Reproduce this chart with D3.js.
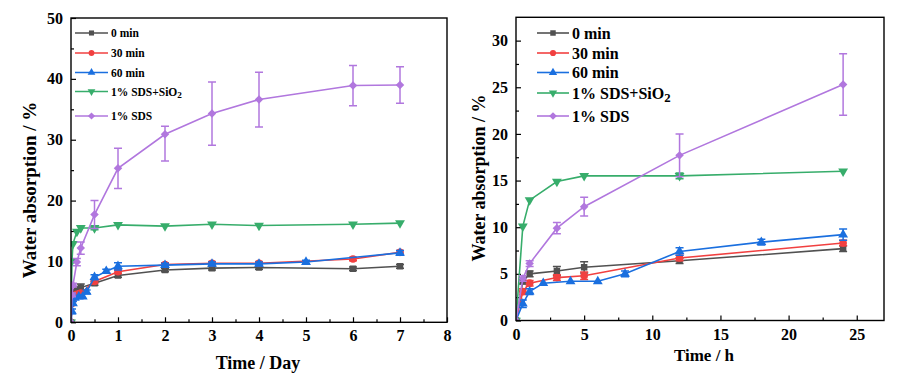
<!DOCTYPE html>
<html><head><meta charset="utf-8">
<script src="https://cdn.jsdelivr.net/npm/d3@7"></script>
<style>
body{margin:0;background:#fff}
svg{display:block}
text{font-family:"Liberation Serif","Times New Roman",serif;font-weight:bold;fill:#000}
</style></head>
<body><svg id="c" width="911" height="383"></svg>
<script>
// ---------- DATA ----------
const seriesNames = ["0 min", "30 min", "60 min", "1% SDS+SiO2", "1% SDS"];
const colors = ["#515151", "#F14040", "#1A6FDF", "#37AD6B", "#B177DE"];
const shapes = ["square", "circle", "triUp", "triDown", "diamond"];

// Right chart (hours)
const hoursStd = [0, 0.5, 1, 3, 5, 12, 24];
const hoursBlue = [0, 0.5, 1, 2, 4, 6, 8, 12, 18, 24];
const grayH = [0, 4.2, 5.0, 5.3, 5.7, 6.4, 7.7];
const redH = [0, 3.1, 4.0, 4.6, 4.8, 6.7, 8.3];
const blueH = [0, 1.8, 3.1, 4.0, 4.2, 4.2, 5.0, 7.4, 8.4, 9.2];
const greenH = [0, 10.1, 12.9, 14.9, 15.5, 15.5, 16.0];
const purpleH = [0, 4.5, 6.1, 9.9, 12.2, 17.7, 25.3];
const grayHErr = [0, 0.3, 0.3, 0.5, 0.6, 0.3, 0.3];
const redHErr = [0, 0.3, 0.3, 0.3, 0.4, 0.3, 0.3];
const blueHErr = [0, 0.4, 0.3, 0.2, 0.2, 0.2, 0.3, 0.4, 0.3, 0.6];
const greenHErr = [0, 0.2, 0.2, 0.2, 0.2, 0.3, 0.2];
const purpleHErr = [0, 0.3, 0.3, 0.6, 1.0, 2.3, 3.3];

// Left chart (days): early hour points expressed in days, then later days
const daysStd = [0, 0.0208, 0.0417, 0.125, 0.208, 0.5, 1, 2, 3, 4, 6, 7];
const daysBlue = [0, 0.0208, 0.0417, 0.0833, 0.1667, 0.25, 0.333, 0.5, 0.75, 1, 2, 3, 4, 5, 7];
const grayD = [0, 4.2, 5.0, 5.3, 5.7, 6.4, 7.7, 8.6, 8.9, 9.0, 8.8, 9.2];
const redD = [0, 3.1, 4.0, 4.6, 4.8, 6.7, 8.3, 9.5, 9.7, 9.7, 10.4, 11.5];
const blueD = [0, 1.8, 3.1, 4.0, 4.2, 4.2, 5.0, 7.4, 8.4, 9.2, 9.4, 9.6, 9.6, 9.9, 11.4];
const greenD = [0, 10.1, 12.9, 14.9, 15.5, 15.5, 16.0, 15.8, 16.1, 15.9, 16.1, 16.3];
const purpleD = [0, 4.5, 6.1, 9.9, 12.2, 17.7, 25.3, 30.9, 34.3, 36.6, 38.9, 39.0];
const grayDErr = [0, 0.3, 0.3, 0.5, 0.6, 0.3, 0.3, 0.3, 0.3, 0.3, 0.3, 0.3];
const redDErr = [0, 0.3, 0.3, 0.3, 0.4, 0.3, 0.3, 0.3, 0.3, 0.3, 0.3, 0.3];
const blueDErr = [0, 0.4, 0.3, 0.2, 0.2, 0.2, 0.3, 0.4, 0.3, 0.6, 0.3, 0.3, 0.3, 0.3, 0.4];
const greenDErr = [0, 0.2, 0.2, 0.2, 0.2, 0.3, 0.2, 0.2, 0.2, 0.2, 0.2, 0.2];
const purpleDErrUp = [0, 0.3, 0.3, 0.6, 1.0, 2.3, 3.3, 1.3, 5.2, 4.5, 3.3, 3.0];
const purpleDErrDown = [0, 0.3, 0.3, 0.6, 1.0, 2.3, 3.3, 4.4, 5.2, 4.5, 3.3, 3.0];

const leftXTicks = [0, 1, 2, 3, 4, 5, 6, 7, 8];
const leftYTicks = [0, 10, 20, 30, 40, 50];
const rightXTicks = [0, 5, 10, 15, 20, 25];
const rightYTicks = [0, 5, 10, 15, 20, 25, 30];

const yTitle = "Water absorption / %";
const leftXTitle = "Time / Day";
const rightXTitle = "Time / h";

// ---------- BUILD ----------
const svg = d3.select("#c");

function mk(xs, ys, up, down) {
  return xs.map((x, i) => ({x, y: ys[i], up: up[i], down: (down || up)[i]}));
}
const leftSeries = [
  mk(daysStd, grayD, grayDErr), mk(daysStd, redD, redDErr), mk(daysBlue, blueD, blueDErr),
  mk(daysStd, greenD, greenDErr), mk(daysStd, purpleD, purpleDErrUp, purpleDErrDown)
];
const rightSeries = [
  mk(hoursStd, grayH, grayHErr), mk(hoursStd, redH, redHErr), mk(hoursBlue, blueH, blueHErr),
  mk(hoursStd, greenH, greenHErr), mk(hoursStd, purpleH, purpleHErr)
];

function symbolPath(shape, size) {
  if (shape === "square") return d3.symbol(d3.symbolSquare, size)();
  if (shape === "circle") return d3.symbol(d3.symbolCircle, size)();
  if (shape === "triUp" || shape === "triDown") return d3.symbol(d3.symbolTriangle, size)();
  return d3.symbol(d3.symbolSquare, size)();
}
function symbolRot(shape) {
  if (shape === "triDown") return " rotate(180)";
  if (shape === "diamond") return " rotate(45)";
  return "";
}

function panel(cfg) {
  const g = svg.append("g");
  const x = d3.scaleLinear().domain(cfg.xDom).range(cfg.xRange);
  const y = d3.scaleLinear().domain(cfg.yDom).range(cfg.yRange);
  const [x0, x1] = cfg.xRange, [yb, yt] = cfg.yRange;

  // minor ticks
  g.append("g").attr("transform", `translate(0,${yb})`)
    .call(d3.axisBottom(x).tickValues(cfg.xMinor).tickSize(-3).tickFormat(""))
    .call(a => a.select(".domain").remove());
  g.append("g").attr("transform", `translate(${x0},0)`)
    .call(d3.axisLeft(y).tickValues(cfg.yMinor).tickSize(-3).tickFormat(""))
    .call(a => a.select(".domain").remove());
  // major ticks
  const ax = g.append("g").attr("transform", `translate(0,${yb})`)
    .call(d3.axisBottom(x).tickValues(cfg.xTicks).tickSize(-5).tickPadding(7).tickFormat(d3.format("d")));
  ax.select(".domain").remove();
  ax.selectAll("text").attr("font-size", 16).attr("dy", "0.75em").style("font-family", "'Liberation Serif',serif").style("font-weight", "bold");
  const ay = g.append("g").attr("transform", `translate(${x0},0)`)
    .call(d3.axisLeft(y).tickValues(cfg.yTicks).tickSize(-5).tickPadding(8).tickFormat(d3.format("d")));
  ay.select(".domain").remove();
  ay.selectAll("text").attr("font-size", 16).style("font-family", "'Liberation Serif',serif").style("font-weight", "bold");
  g.selectAll(".tick line").attr("stroke", "#000").attr("stroke-width", 1.2);

  // data
  const clipId = "clip" + cfg.id;
  g.append("clipPath").attr("id", clipId).append("rect")
    .attr("x", x0).attr("y", yt).attr("width", x1 - x0).attr("height", yb - yt);
  const dg = g.append("g").attr("clip-path", `url(#${clipId})`);
  const line = d3.line().x(d => x(d.x)).y(d => y(d.y));
  cfg.series.forEach((s, i) => {
    const c = colors[i];
    const sg = dg.append("g");
    sg.append("path").datum(s).attr("d", line).attr("fill", "none").attr("stroke", c).attr("stroke-width", 1.6);
    s.forEach(d => {
      if (d.up > 0.25 || d.down > 0.25) {
        const xp = x(d.x), ya = y(d.y + d.up), yb2 = y(d.y - d.down);
        sg.append("line").attr("x1", xp).attr("x2", xp).attr("y1", ya).attr("y2", yb2).attr("stroke", c).attr("stroke-width", 1.5);
        sg.append("line").attr("x1", xp - 4).attr("x2", xp + 4).attr("y1", ya).attr("y2", ya).attr("stroke", c).attr("stroke-width", 1.5);
        sg.append("line").attr("x1", xp - 4).attr("x2", xp + 4).attr("y1", yb2).attr("y2", yb2).attr("stroke", c).attr("stroke-width", 1.5);
      }
    });
    sg.selectAll("path.m").data(s).join("path").attr("class", "m")
      .attr("d", symbolPath(shapes[i], cfg.msize[i]))
      .attr("transform", d => `translate(${x(d.x)},${y(d.y)})` + symbolRot(shapes[i]))
      .attr("fill", c);
  });

  // frame
  g.append("rect").attr("x", x0).attr("y", yt).attr("width", x1 - x0).attr("height", yb - yt)
    .attr("fill", "none").attr("stroke", "#000").attr("stroke-width", 1.4);

  // titles
  g.append("text").attr("x", cfg.xTitlePos[0]).attr("y", cfg.xTitlePos[1]).attr("text-anchor", "middle")
    .attr("font-size", cfg.xTitleSize).text(cfg.xTitle);
  g.append("text").attr("transform", `translate(${cfg.yTitlePos[0]},${cfg.yTitlePos[1]}) rotate(-90)`)
    .attr("text-anchor", "middle").attr("font-size", cfg.yTitleSize).text(yTitle);

  // legend
  const L = cfg.legend;
  seriesNames.forEach((name, i) => {
    const ly = L.rows[i];
    const c = colors[i];
    g.append("line").attr("x1", L.x1).attr("x2", L.x2).attr("y1", ly).attr("y2", ly).attr("stroke", c).attr("stroke-width", 1.6);
    g.append("path").attr("d", symbolPath(shapes[i], L.msize)).attr("fill", c)
      .attr("transform", `translate(${(L.x1 + L.x2) / 2},${ly})` + symbolRot(shapes[i]));
    const t = g.append("text").attr("x", L.tx).attr("y", ly).attr("dy", "0.35em").attr("font-size", L.fs);
    if (name.endsWith("SiO2")) {
      t.append("tspan").text(name.slice(0, -1));
      t.append("tspan").attr("dy", "0.3em").attr("font-size", L.fs * 0.8).text("2");
    } else {
      t.text(name);
    }
  });
}

panel({
  id: "L", xDom: [0, 8], yDom: [0, 50], xRange: [71, 447], yRange: [322.3, 18],
  xTicks: leftXTicks, yTicks: leftYTicks,
  xMinor: d3.range(0.5, 8, 1), yMinor: d3.range(5, 50, 10),
  series: leftSeries, msize: [42, 46, 42, 42, 36],
  xTitle: leftXTitle, xTitlePos: [258, 369], xTitleSize: 18,
  yTitlePos: [36, 190], yTitleSize: 19,
  legend: {x1: 75, x2: 108, tx: 111, rows: [33, 53, 72.5, 91.5, 116], fs: 11.5, msize: 26}
});
panel({
  id: "R", xDom: [0, 27], yDom: [0, 32.5], xRange: [516, 884], yRange: [320.5, 17.3],
  xTicks: rightXTicks, yTicks: rightYTicks,
  xMinor: d3.range(2.5, 27, 5), yMinor: d3.range(2.5, 32.5, 5),
  series: rightSeries, msize: [42, 46, 42, 42, 36],
  xTitle: rightXTitle, xTitlePos: [704, 361], xTitleSize: 17,
  yTitlePos: [485, 178], yTitleSize: 18,
  legend: {x1: 537, x2: 569, tx: 572, rows: [33, 53, 72.5, 93, 116], fs: 16, msize: 30}
});
</script></body></html>
